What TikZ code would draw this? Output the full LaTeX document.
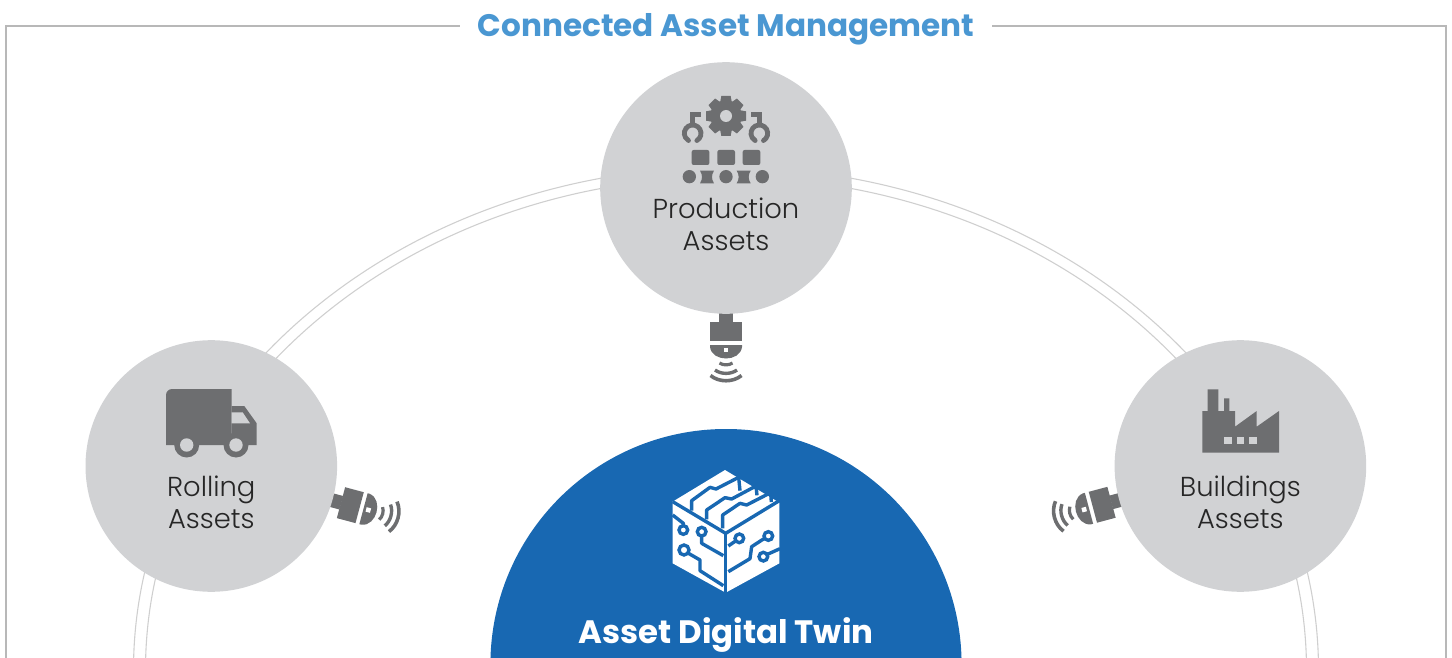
\documentclass[tikz,border=0pt]{standalone}
\usepackage{fontspec}
\newfontfamily\labelfont{Poppins Light}
\newfontfamily\headfont{Poppins Bold}
\definecolor{assetgray}{HTML}{D1D2D4}
\definecolor{icongray}{HTML}{6D6E70}
\definecolor{twinblue}{HTML}{1868B2}
\definecolor{headblue}{HTML}{4A97D2}
\definecolor{ringgray}{HTML}{CFCFCF}
\tikzset{
    assetnode/.style={circle, fill=assetgray, minimum size=125.8pt, inner sep=0pt},
    assetlabel/.style={align=center, text=black!85, font=\labelfont\fontsize{13.7}{16}\selectfont},
    ringline/.style={draw=ringgray, line width=0.55pt},
    frameline/.style={draw=black!28, line width=0.6pt},
    circuit/.style={draw=twinblue, line width=1.7pt, line join=round},
    pad/.style={fill=white, draw=twinblue, line width=1.7pt},
    pics/plugicon/.style={code={
        \fill[icongray] (-7,-35) rectangle (7,-23);
        \fill[icongray] (-16,-23.3) rectangle (16,-4);
        \fill[icongray] (-16,0) -- (16,0) -- (16,2) .. controls (15,10) and (7,13.5) .. (0,13.5)
            .. controls (-7,13.5) and (-15,10) .. (-16,2) -- cycle;
        \fill[white] (-2.3,2.7) rectangle (2.3,7.3);
        \draw[icongray, line width=1.6pt] (-6.5,18) .. controls (-3,20.5) and (3,20.5) .. (6.5,18);
        \draw[icongray, line width=1.7pt] (-11,25) .. controls (-5,29.5) and (5,29.5) .. (11,25);
        \draw[icongray, line width=1.8pt] (-15.5,30.5) .. controls (-7,37.5) and (7,37.5) .. (15.5,30.5);
    }}
}
\begin{document}
\begin{tikzpicture}[x=0.5pt, y=-0.5pt]
    \useasboundingbox (0,0) rectangle (1452,658);
    \clip (0,0) rectangle (1452,658);

    \draw[frameline] (6,658) -- (6,26) -- (460,26);
    \draw[frameline] (992,26) -- (1446,26) -- (1446,658);
    \node (title) at (726,29) {\headfont\fontsize{15.55}{18}\selectfont\textcolor{headblue}{Connected Asset Management}};

    \draw[ringline] (726,670) ellipse [x radius=592.5, y radius=503];
    \draw[ringline] (726,670) ellipse [x radius=580.5, y radius=493];

    \pic at (726,345) {plugicon};
    \pic[rotate=75] at (363.5,508.7) {plugicon};
    \pic[rotate=-75] at (1089,508.3) {plugicon};

    \node[assetnode] (production) at (726,188) {};
    \node[assetnode] (rolling) at (211.3,466) {};
    \node[assetnode] (buildings) at (1240.4,466) {};
    \fill[twinblue] (726,664.6) circle (235.6);

    \node[assetlabel] (productionlabel) at (726,224) {Production\\Assets};
    \node[assetlabel] (rollinglabel) at (211.3,502) {Rolling\\Assets};
    \node[assetlabel] (buildingslabel) at (1240.4,502) {Buildings\\Assets};
    \node (twinlabel) at (726,635) {\headfont\fontsize{16.2}{18}\selectfont\textcolor{white}{Asset Digital Twin}};

    \begin{scope}[shift={(640,80)}, scale=1/3]
        \foreach \a in {0,45,...,315}
            \fill[icongray, rotate around={\a:(258,108)}] (244,48) -- (272,48) -- (276,70) -- (240,70) -- cycle;
        \fill[icongray] (258,108) circle (47);
        \fill[assetgray] (258,108) circle (18);
        \draw[icongray, line width=2.4pt, line cap=round] (158,160) ++(60:25) arc (60:-240:25);
        \draw[icongray, line width=2.4pt, line cap=round] (358,160) ++(60:25) arc (60:-240:25);
        \draw[icongray, line width=2.4pt] (183,104) -- (158,104) -- (158,135);
        \draw[icongray, line width=2.4pt] (333,104) -- (358,104) -- (358,135);
        \foreach \x in {155,232,308}
            \fill[icongray, rounded corners=1pt] (\x,210) rectangle (\x+53,255);
        \foreach \x in {148,258,367}
            \fill[icongray] (\x,290) circle (20);
        \foreach \x in {180,290}
            \fill[icongray] (\x,272) -- (\x+42,272)
                .. controls (\x+34,285) and (\x+34,297) .. (\x+42,310)
                -- (\x,310)
                .. controls (\x+8,297) and (\x+8,285) .. (\x,272) -- cycle;
    \end{scope}

    \fill[icongray] [rounded corners=3pt] (166,445) -- (166,389) [sharp corners] -- (231.7,389) -- (231.7,445) -- cycle;
    \fill[icongray] (231.7,406) -- (244.3,406) -- (256.7,423.3) -- (256.7,445) -- (231.7,445) -- cycle;
    \fill[assetgray] (231.7,412.3) -- (242.7,412.3) -- (250,423.3) -- (231.7,423.3) -- cycle;
    \foreach \x in {186.7,236} {
        \fill[icongray] (\x,445) circle (12.5);
        \fill[assetgray] (\x,445) circle (6.7);
    }

    \fill[icongray] (1202.3,452.7) -- (1202.3,411) -- (1207.7,411) -- (1207.7,389.3) -- (1218.3,389.3) -- (1218.3,411)
        -- (1224,411) -- (1224,398.3) -- (1229.3,398.3) -- (1229.3,411) -- (1235,411) -- (1235,426.7)
        -- (1256.7,411) -- (1256.7,426.7) -- (1279,411) -- (1279,452.7) -- cycle;
    \foreach \x in {1224,1236.7,1249.3}
        \fill[assetgray] (\x,436.7) rectangle (\x+7.6,444);

    \begin{scope}[shift={(660,460)}, scale=1/3]
        \fill[white] (195,30) -- (358,128) -- (358,310) -- (197,398) -- (38,310) -- (38,125) -- cycle;
        \draw[circuit] (38,125) -- (197,220) -- (358,122);
        \draw[circuit] (197,220) -- (197,400);
        \draw[circuit] (95,152) -- (95,122) -- (150,82) -- (168,87) -- (236,52) -- (240,92);
        \draw[circuit] (140,178) -- (140,150) -- (195,113) -- (215,117) -- (288,78) -- (291,106);
        \draw[circuit] (188,205) -- (188,165) -- (240,130) -- (260,135) -- (332,98) -- (334,126);
        \draw[circuit] (38,165) -- (70,190) -- (70,200);
        \draw[pad] (70,210) circle (13);
        \draw[circuit] (125,225) -- (125,250) -- (190,287);
        \draw[pad] (125,215) circle (13);
        \draw[circuit] (82,278) -- (120,300) -- (120,332) -- (190,377);
        \draw[pad] (72,270) circle (15);
        \draw[circuit] (228,242) -- (205,258);
        \draw[pad] (238,235) circle (13);
        \draw[circuit] (315,234) -- (275,260) -- (270,296) -- (205,335);
        \draw[pad] (325,228) circle (13);
        \draw[circuit] (320,284) -- (360,266);
        \draw[pad] (310,290) circle (13);
    \end{scope}
\end{tikzpicture}
\end{document}
